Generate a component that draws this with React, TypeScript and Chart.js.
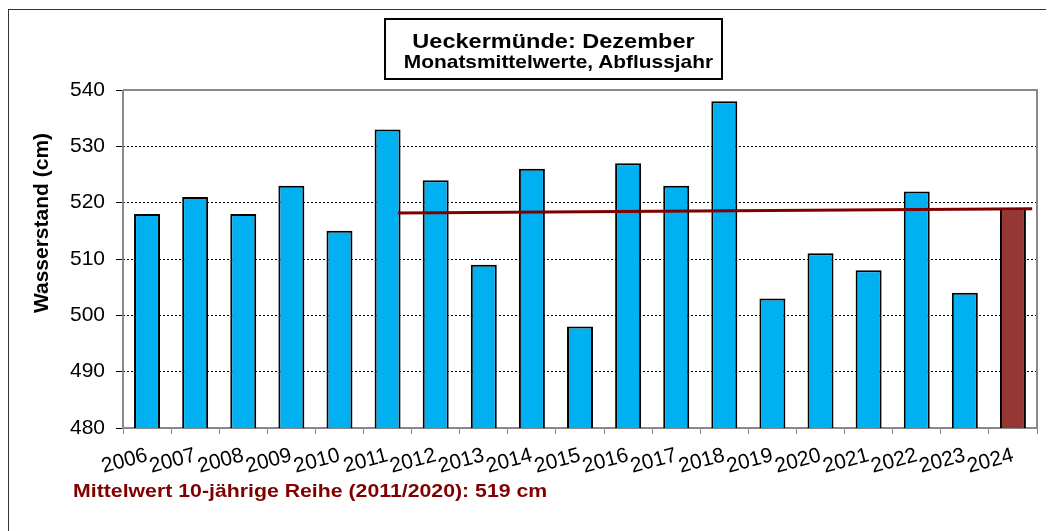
import React, { useEffect, useRef } from "react";
import { Chart, registerables } from "chart.js";

Chart.register(...registerables);

const years = ["2006","2007","2008","2009","2010","2011","2012","2013","2014","2015","2016","2017","2018","2019","2020","2021","2022","2023","2024"];
const values = [518,521,518,523,515,533,524,509,526,498,527,523,538,503,511,508,522,504,519];
const highlightYear = "2024";
const yTicks = [480,490,500,510,520,530,540];
// mean line (2011–2020 series), in category-index units and cm
const meanLineX = [5.72, 18.9];
const meanLineY = [518.15, 518.9];

const titleLine1 = "Ueckermünde: Dezember";
const titleLine2 = "Monatsmittelwerte, Abflussjahr";
const yTitle = "Wasserstand (cm)";
const footnote = "Mittelwert 10-jährige Reihe (2011/2020): 519 cm";

const FONT = "'Liberation Sans', Arial, Helvetica, sans-serif";
const BLUE = "#00B0F0";
const BROWN = "#953735";
const DARKRED = "#800000";

const framePlugin = {
  id: "frame",
  beforeDatasetsDraw(chart: any) {
    const { ctx, chartArea } = chart;
    ctx.save();
    ctx.strokeStyle = "#888888";
    ctx.lineWidth = 2;
    ctx.setLineDash([]);
    ctx.beginPath();
    ctx.moveTo(chartArea.left, chartArea.top);
    ctx.lineTo(chartArea.right, chartArea.top);
    ctx.lineTo(chartArea.right, chartArea.bottom);
    ctx.stroke();
    ctx.beginPath();
    ctx.moveTo(chartArea.left, chartArea.top);
    ctx.lineTo(chartArea.left, chartArea.bottom);
    ctx.lineTo(chartArea.right, chartArea.bottom);
    ctx.stroke();
    ctx.restore();
  },
};

export default function App() {
  const ref = useRef<HTMLCanvasElement>(null);
  useEffect(() => {
    if (!ref.current) return;
    const chart = new Chart(ref.current, {
      type: "bar",
      data: {
        labels: years,
        datasets: [
          {
            type: "line",
            data: meanLineX.map((x, i) => ({ x, y: meanLineY[i] })),
            xAxisID: "xl",
            borderColor: DARKRED,
            borderWidth: 3,
            pointRadius: 0,
            fill: false,
            order: 0,
          } as any,
          {
            type: "bar",
            data: values,
            xAxisID: "x",
            backgroundColor: years.map((y) => (y === highlightYear ? BROWN : BLUE)),
            borderColor: "#000000",
            borderWidth: 2,
            borderSkipped: false,
            barPercentage: 0.54,
            categoryPercentage: 1,
            grouped: false,
            order: 1,
          } as any,
        ],
      },
      options: {
        animation: false,
        responsive: false,
        maintainAspectRatio: false,
        layout: { padding: { top: 82, right: 17, bottom: 0, left: 0 } },
        plugins: { legend: { display: false }, tooltip: { enabled: false }, title: { display: false } },
        scales: {
          x: {
            type: "category",
            offset: true,
            afterFit: (s: any) => { s.height = 103; },
            grid: { display: true, drawOnChartArea: false, drawTicks: true, tickLength: 6, tickColor: "#888888", offset: true },
            border: { display: false },
            ticks: {
              color: "#000",
              font: { family: FONT, size: 21 },
              maxRotation: 15,
              minRotation: 15,
              autoSkip: false,
              padding: 9,
            },
          },
          xl: {
            type: "linear",
            display: false,
            min: 0,
            max: years.length,
            offset: false,
          },
          y: {
            type: "linear",
            min: 480,
            max: 540,
            afterFit: (s: any) => { s.width = 115; },
            afterBuildTicks: (s: any) => { s.ticks = yTicks.map((v) => ({ value: v })); },
            grid: {
              color: (c: any) => (c.tick && (c.tick.value === 480 || c.tick.value === 540) ? "rgba(0,0,0,0)" : "#000"),
              lineWidth: 1,
              drawTicks: true,
              tickLength: 7,
              tickColor: "#000",
              tickBorderDash: [],
            },
            border: { display: false, dash: [2, 2] },
            ticks: {
              color: "#000",
              font: { family: FONT, size: 21 },
              padding: 11,
            },
            title: { display: false },
          },
        },
      },
      plugins: [framePlugin],
    });
    return () => chart.destroy();
  }, []);

  return (
    <div style={{ position: "relative", width: 1046, height: 523, fontFamily: FONT, overflow: "hidden" }}>
      <canvas ref={ref} width={1046} height={523} style={{ position: "absolute", left: 0, top: 0, width: 1046, height: 523 }} />
      <div style={{ position: "absolute", left: 0, top: 1, width: 1100, height: 600, borderLeft: "1px solid #333", borderTop: "1px solid #333", pointerEvents: "none" }} />
      <div
        style={{
          position: "absolute",
          left: 376,
          top: 10,
          width: 339,
          height: 62,
          border: "2px solid #000",
          background: "#fff",
          fontWeight: "bold",
          color: "#000",
          boxSizing: "border-box",
        }}
      >
        <div style={{ position: "absolute", left: 0, width: 335, top: 10, textAlign: "center", fontSize: 21, lineHeight: "21px", whiteSpace: "nowrap", transform: "scaleX(1.12)" }}>
          {titleLine1}
        </div>
        <div style={{ position: "absolute", left: 5, width: 335, top: 32, textAlign: "center", fontSize: 19, lineHeight: "19px", whiteSpace: "nowrap", transform: "scaleX(1.1)" }}>
          {titleLine2}
        </div>
      </div>
      <div
        style={{
          position: "absolute",
          left: 65,
          top: 473,
          fontSize: 19,
          lineHeight: "19px",
          fontWeight: "bold",
          color: DARKRED,
          whiteSpace: "nowrap",
          transform: "scaleX(1.12)",
          transformOrigin: "left center",
        }}
      >
        {footnote}
      </div>
      <div
        style={{
          position: "absolute",
          left: 33 - 150,
          top: 215 - 12,
          width: 300,
          height: 24,
          lineHeight: "24px",
          textAlign: "center",
          fontSize: 21,
          fontWeight: "bold",
          color: "#000",
          whiteSpace: "nowrap",
          transform: "rotate(-90deg)",
          transformOrigin: "center center",
        }}
      >
        {yTitle}
      </div>
    </div>
  );
}
